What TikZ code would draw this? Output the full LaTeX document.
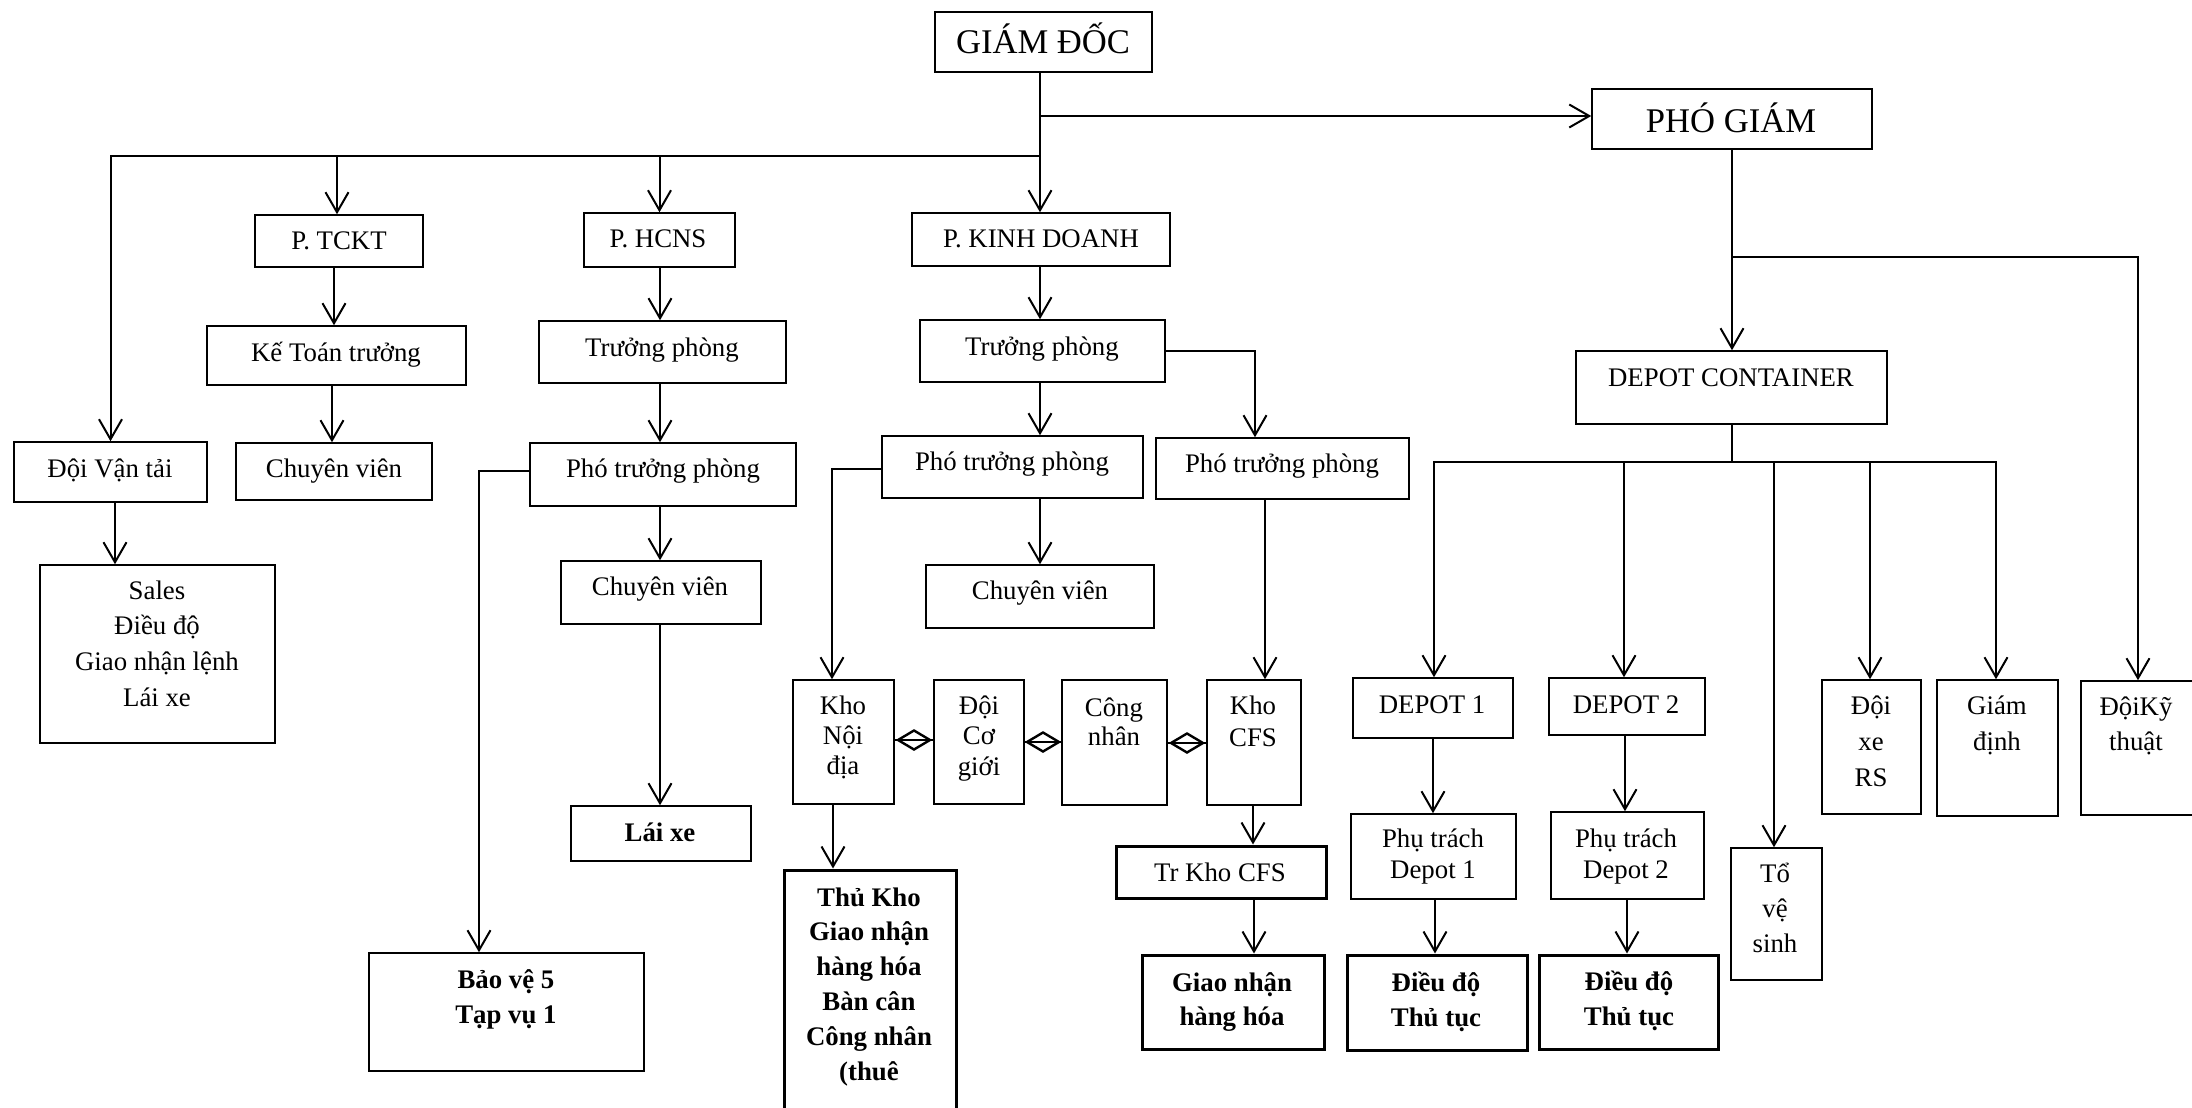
\documentclass[tikz,border=0pt]{standalone}
\usepackage{fontspec}
\setmainfont{Liberation Serif}
\usetikzlibrary{arrows.meta,fit,shapes.geometric,calc}
\newcommand\myfs[1]{\fontsize{13.4}{#1}\selectfont}
\begin{document}
\begin{tikzpicture}[x=0.5pt,y=-0.5pt,
  bx/.style={draw, line width=0.75pt, inner sep=0pt},
  bxk/.style={draw, line width=1.5pt, inner sep=0pt},
  conn/.style={line width=1pt},
  arr/.style={conn, -{Straight Barb[length=10pt,width=11.5pt,line width=1pt]}},
  t/.style={anchor=base, align=center, inner sep=0pt, font=\myfs{17.5}},
  tbig/.style={anchor=base, align=center, inner sep=0pt, font=\fontsize{17.3}{20}\selectfont},
  dmd/.style={diamond, draw, line width=1.2pt, minimum width=16.5pt, minimum height=10pt, inner sep=0pt}]
\useasboundingbox (0,0) rectangle (2192,1108);
\clip (0,0) rectangle (2192,1108);
\fill[white] (0,0) rectangle (2192,1108);

% boxes
\node[bx, fit={(935,12) (1152,72)}] (gd) {};
\node[bx, fit={(1592,89) (1872,149)}] (pg) {};
\node[bx, fit={(255,215) (423,267)}] (tckt) {};
\node[bx, fit={(584,213) (735,267)}] (hcns) {};
\node[bx, fit={(912,213) (1170,266)}] (kd) {};
\node[bx, fit={(207,326) (466,385)}] (ktt) {};
\node[bx, fit={(539,321) (786,383)}] (tp1) {};
\node[bx, fit={(920,320) (1165,382)}] (tp2) {};
\node[bx, fit={(14,442) (207,502)}] (dvt) {};
\node[bx, fit={(236,443) (432,500)}] (cv1) {};
\node[bx, fit={(530,443) (796,506)}] (ptp1) {};
\node[bx, fit={(882,436) (1143,498)}] (ptp2) {};
\node[bx, fit={(1156,438) (1409,499)}] (ptp3) {};
\node[bx, fit={(1576,351) (1887,424)}] (dc) {};
\node[bx, fit={(40,565) (275,743)}] (sales) {};
\node[bx, fit={(561,561) (761,624)}] (cv2) {};
\node[bx, fit={(571,806) (751,861)}] (laixe) {};
\node[bx, fit={(369,953) (644,1071)}] (baove) {};
\node[bx, fit={(793,680) (894,804)}] (khond) {};
\node[bx, fit={(934,680) (1024,804)}] (doicg) {};
\node[bx, fit={(1062,680) (1167,805)}] (congnhan) {};
\node[bx, fit={(1207,680) (1301,805)}] (khocfs) {};
\node[bx, fit={(926,565) (1154,628)}] (cv3) {};
\node[bxk, fit={(784,870) (956,1125)}] (thukho) {};
\node[bxk, fit={(1116,846) (1326,898)}] (trkho) {};
\node[bxk, fit={(1142,955) (1324,1049)}] (gnhh) {};
\node[bx, fit={(1353,678) (1513,738)}] (dp1) {};
\node[bx, fit={(1549,678) (1705,735)}] (dp2) {};
\node[bx, fit={(1351,814) (1516,899)}] (pt1) {};
\node[bx, fit={(1551,812) (1704,899)}] (pt2) {};
\node[bxk, fit={(1347,955) (1527,1050)}] (dd1) {};
\node[bxk, fit={(1539,955) (1718,1049)}] (dd2) {};
\node[bx, fit={(1731,848) (1822,980)}] (tvs) {};
\node[bx, fit={(1822,680) (1921,814)}] (dxrs) {};
\node[bx, fit={(1937,680) (2058,816)}] (gdinh) {};
\node[bx, fit={(2081,681) (2196,815)}] (dkt) {};

% texts (anchor base = baseline of the last line)
\node[tbig] (gd-t) at (1043,54) {GIÁM ĐỐC};
\node[tbig] (pg-t) at (1731,132) {PHÓ GIÁM};
\node[t] (tckt-t) at (339,249) {P. TCKT};
\node[t] (hcns-t) at (658,247) {P. HCNS};
\node[t] (kd-t) at (1041,247) {P. KINH DOANH};
\node[t] (ktt-t) at (336,361) {Kế Toán trưởng};
\node[t] (tp1-t) at (662,356) {Trưởng phòng};
\node[t] (tp2-t) at (1042,355) {Trưởng phòng};
\node[t] (dvt-t) at (110,477) {Đội Vận tải};
\node[t] (cv1-t) at (334,477) {Chuyên viên};
\node[t] (ptp1-t) at (663,477) {Phó trưởng phòng};
\node[t] (ptp2-t) at (1012,470) {Phó trưởng phòng};
\node[t] (ptp3-t) at (1282,472) {Phó trưởng phòng};
\node[t] (dc-t) at (1731,386) {DEPOT CONTAINER};
\node[t, font=\myfs{17.9}] (sales-t) at (157,706.5) {Sales\\Điều độ\\Giao nhận lệnh\\Lái xe};
\node[t] (cv2-t) at (660,595) {Chuyên viên};
\node[t, font=\myfs{17.5}\bfseries] (laixe-t) at (660,841) {Lái xe};
\node[t, font=\myfs{17.5}\bfseries] (baove-t) at (506,1023) {Bảo vệ 5\\Tạp vụ 1};
\node[t, font=\myfs{15.2}] (khond-t) at (843,774.8) {Kho\\Nội\\địa};
\node[t, font=\myfs{15.4}] (doicg-t) at (979,775.6) {Đội\\Cơ\\giới};
\node[t, font=\myfs{14.5}] (congnhan-t) at (1114,745) {Công\\nhân};
\node[t, font=\myfs{16.3}] (khocfs-t) at (1253,746.6) {Kho\\CFS};
\node[t] (cv3-t) at (1040,599) {Chuyên viên};
\node[t, font=\myfs{17.45}\bfseries] (thukho-t) at (869,1080.5) {Thủ Kho\\Giao nhận\\hàng hóa\\Bàn cân\\Công nhân\\(thuê};
\node[t] (trkho-t) at (1220,881) {Tr Kho CFS};
\node[t, font=\myfs{17.2}\bfseries] (gnhh-t) at (1232,1025.4) {Giao nhận\\hàng hóa};
\node[t] (dp1-t) at (1432,713) {DEPOT 1};
\node[t] (dp2-t) at (1626,713) {DEPOT 2};
\node[t, font=\myfs{15.5}] (pt1-t) at (1433,878) {Phụ trách\\Depot 1};
\node[t, font=\myfs{15.7}] (pt2-t) at (1626,878.4) {Phụ trách\\Depot 2};
\node[t, font=\myfs{17.5}\bfseries] (dd1-t) at (1436,1026) {Điều độ\\Thủ tục};
\node[t, font=\myfs{17.5}\bfseries] (dd2-t) at (1629,1025) {Điều độ\\Thủ tục};
\node[t, font=\myfs{17.6}] (tvs-t) at (1775,952.4) {Tổ\\vệ\\sinh};
\node[t, font=\myfs{18}] (dxrs-t) at (1871,786) {Đội\\xe\\RS};
\node[t, font=\myfs{18}] (gdinh-t) at (1997,750) {Giám\\định};
\node[t, font=\myfs{17.2}] (dkt-t) at (2136,750.3) {ĐộiKỹ\\thuật};

% connectors: left part
\coordinate (j1) at (1040,156);
\draw[conn] (gd.south -| j1) -- (j1);
\draw[arr] (j1 |- 0,116) -- (pg.west |- 0,116);
\draw[arr] (j1) -- (j1 |- kd.north);
\draw[arr] (j1) -| (dvt.north);
\draw[arr] (337,0 |- j1) -- (337,0 |- tckt.north);
\draw[arr] (hcns.north |- j1) -- (hcns.north);
\draw[arr] (334,0 |- tckt.south) -- (334,0 |- ktt.north);
\draw[arr] (332,0 |- ktt.south) -- (332,0 |- cv1.north);
\draw[arr] (660,0 |- hcns.south) -- (660,0 |- tp1.north);
\draw[arr] (660,0 |- tp1.south) -- (660,0 |- ptp1.north);
\draw[arr] (660,0 |- ptp1.south) -- (660,0 |- cv2.north);
\draw[arr] (660,0 |- cv2.south) -- (660,0 |- laixe.north);
\draw[arr] (ptp1.west |- 0,471) -| (479,0 |- baove.north);
\draw[arr] (115,0 |- dvt.south) -- (115,0 |- sales.north);
\draw[arr] (1040,0 |- kd.south) -- (1040,0 |- tp2.north);
\draw[arr] (1040,0 |- tp2.south) -- (1040,0 |- ptp2.north);
\draw[arr] (tp2.east) -| (1255,0 |- ptp3.north);
\draw[arr] (1040,0 |- ptp2.south) -- (1040,0 |- cv3.north);
\draw[arr] (ptp2.west |- 0,469) -| (832,0 |- khond.north);
\draw[arr] (1265,0 |- ptp3.south) -- (1265,0 |- khocfs.north);
\draw[arr] (833,0 |- khond.south) -- (833,0 |- thukho.north);
\draw[arr] (1253,0 |- khocfs.south) -- (1253,0 |- trkho.north);
\draw[arr] (1254,0 |- trkho.south) -- (1254,0 |- gnhh.north);

% diamonds
\draw[conn] (khond.east |- 0,740) -- node[dmd] (dm1) {} (doicg.west |- 0,740);
\draw[conn] (doicg.east |- 0,742) -- node[dmd] (dm2) {} (congnhan.west |- 0,742);
\draw[conn] (congnhan.east |- 0,743) -- node[dmd] (dm3) {} (khocfs.west |- 0,743);

% right part
\coordinate (j2) at (1732,257);
\coordinate (j3) at (1732,462);
\draw[arr] (1732,0 |- pg.south) -- (1732,0 |- dc.north);
\draw[arr] (j2) -| (2138,0 |- dkt.north);
\draw[conn] (1732,0 |- dc.south) -- (j3);
\draw[arr] (j3) -| (1434,0 |- dp1.north);
\draw[arr] (j3) -| (1624,0 |- dp2.north);
\draw[arr] (j3) -| (1774,0 |- tvs.north);
\draw[arr] (j3) -| (1870,0 |- dxrs.north);
\draw[arr] (j3) -| (1996,0 |- gdinh.north);
\draw[arr] (1433,0 |- dp1.south) -- (1433,0 |- pt1.north);
\draw[arr] (1435,0 |- pt1.south) -- (1435,0 |- dd1.north);
\draw[arr] (1625,0 |- dp2.south) -- (1625,0 |- pt2.north);
\draw[arr] (1627,0 |- pt2.south) -- (1627,0 |- dd2.north);
\end{tikzpicture}
\end{document}
